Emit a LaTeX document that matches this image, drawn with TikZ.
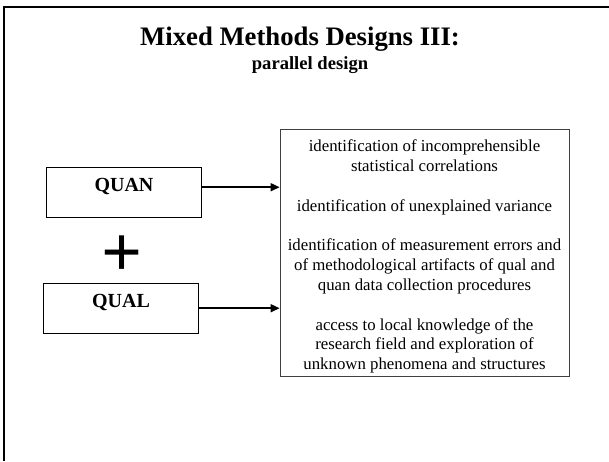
\documentclass[tikz,border=0pt]{standalone}
\usepackage{fontspec}
\setmainfont{Liberation Serif}
\usetikzlibrary{arrows.meta}
\begin{document}
\begin{tikzpicture}[x=1pt,y=1pt,
	designbox/.style={draw,line width=0.9pt,inner xsep=0pt,inner ysep=10.5pt,
		minimum width=155pt,text height=13.5pt,text depth=15pt,
		font=\fontsize{20}{24}\selectfont\bfseries},
	feed/.style={line width=1.6pt,-{Triangle[length=9pt,width=8pt]}}]
	\useasboundingbox (0,0) rectangle (609,-461);
	\coordinate (T) at (4,-7); \coordinate (R) at (609,-7); \coordinate (L) at (4,-461);
	\draw[line width=2.6pt] (L)--(T)--(R);
	\node[anchor=base,font=\fontsize{26.7}{32}\selectfont\bfseries] (title) at (300,-45) {Mixed Methods Designs III:};
	\node[anchor=base,font=\fontsize{18.6}{22}\selectfont\bfseries] (sub) at (310,-69) {parallel design};
	\node[designbox,anchor=north west] (quan) at (46,-167) {QUAN};
	\node[designbox,anchor=north west] (qual) at (43,-283) {QUAL};
	\node[font=\fontsize{72}{80}\selectfont\bfseries] (plus) at (122.5,-256) {+};
	\node[draw=black!75,line width=0.8pt,minimum width=289pt,minimum height=247pt,inner sep=0pt,
		align=center,font=\fontsize{16.8}{19.8}\selectfont] (facts) at (424.5,-252.5)
		{\rule{0pt}{20pt}identification of incomprehensible\\statistical correlations\\[19.8pt]
		identification of unexplained variance\\[19.8pt]
		identification of measurement errors and\\of methodological artifacts of qual and\\quan data collection procedures\\[19.8pt]
		access to local knowledge of the\\research field and exploration of\\unknown phenomena and structures};
	\draw[feed] ([yshift=5pt]quan.east) -- ([yshift=5pt]quan.east -| facts.west);
	\draw[feed] (qual.east) -- (qual.east -| facts.west);
\end{tikzpicture}
\end{document}
